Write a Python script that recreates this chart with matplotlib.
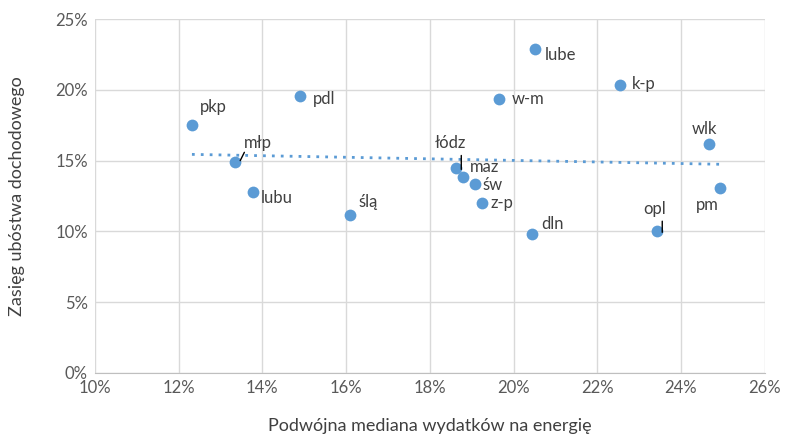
import numpy as np
import matplotlib.pyplot as plt
from matplotlib.ticker import PercentFormatter
from matplotlib.transforms import ScaledTranslation

plt.rcParams['font.family'] = ['Lato', 'DejaVu Sans']

# Data (percent)
regions = ['pkp', 'młp', 'lubu', 'pdl', 'ślą', 'łódz', 'maz', 'św', 'z-p',
           'w-m', 'lube', 'dln', 'k-p', 'opl', 'wlk', 'pm']
energy = [12.32, 13.34, 13.77, 14.9, 16.09, 18.62, 18.79, 19.07, 19.24,
          19.65, 20.51, 20.44, 22.54, 23.42, 24.66, 24.93]
poverty = [17.5, 14.9, 12.78, 19.56, 11.16, 14.48, 13.84, 13.35, 12.0,
           19.35, 22.88, 9.82, 20.34, 10.03, 16.17, 13.07]

# label offsets in points (dx, dy)
offsets = {'pkp': (6, 13), 'młp': (7, 14), 'lubu': (6, -4), 'pdl': (9, -2),
           'ślą': (6, 9), 'łódz': (-15, 18), 'maz': (5, 7),
           'św': (6, -1), 'z-p': (6, 0), 'w-m': (9, 0), 'lube': (7, -4),
           'dln': (7, 7), 'k-p': (9, 1), 'opl': (-10, 16), 'wlk': (-12, 11),
           'pm': (-17, -12)}
# leader lines: region -> ((dx1, dy1), (dx2, dy2)) in points
leaders = {'młp': ((4, 1), (7, 7)), 'łódz': ((4, -1), (4, 9)),
           'opl': ((4, -1), (4, 7))}

blue = '#5B9BD5'

fig, ax = plt.subplots(figsize=(7.9, 4.36), dpi=100)
fig.subplots_adjust(left=0.12, right=0.968, top=0.956, bottom=0.145)

ax.scatter(energy, poverty, s=72, color=blue, zorder=3, linewidths=0)

# linear trend
k, b = np.polyfit(energy, poverty, 1)
xs = np.array([min(energy), max(energy)])
ax.plot(xs, k * xs + b, linestyle=(0, (1, 2.2)), color=blue, lw=2, zorder=2)

for name, x, y in zip(regions, energy, poverty):
    dx, dy = offsets[name]
    ax.annotate(name, (x, y), xytext=(dx, dy), textcoords='offset points',
                fontsize=12, color='#404040', va='center', ha='left')
    if name in leaders:
        (x1, y1), (x2, y2) = leaders[name]
        t1 = ax.transData + ScaledTranslation(x1 / 72, y1 / 72, fig.dpi_scale_trans)
        t2 = ax.transData + ScaledTranslation(x2 / 72, y2 / 72, fig.dpi_scale_trans)
        ax.annotate('', xy=(x, y), xycoords=t1, xytext=(x, y), textcoords=t2,
                    arrowprops=dict(arrowstyle='-', color='black', lw=1,
                                    shrinkA=0, shrinkB=0), zorder=4)

ax.set_xlim(10, 26)
ax.set_ylim(0, 25)
ax.set_xticks(np.arange(10, 27, 2))
ax.set_yticks(np.arange(0, 26, 5))
ax.xaxis.set_major_formatter(PercentFormatter(decimals=0))
ax.yaxis.set_major_formatter(PercentFormatter(decimals=0))
ax.tick_params(length=0, labelsize=12, labelcolor='#595959', pad=5)
ax.grid(True, color='#D9D9D9', lw=1)
ax.set_axisbelow(True)
for s in ['top', 'right', 'left']:
    ax.spines[s].set_visible(False)
ax.spines['bottom'].set_color('#BFBFBF')

ax.set_xlabel('Podwójna mediana wydatków na energię', fontsize=13,
              color='#404040', labelpad=16)
ax.set_ylabel('Zasięg ubóstwa dochodowego', fontsize=13, color='#404040',
              labelpad=22)

fig.savefig('out.png')
